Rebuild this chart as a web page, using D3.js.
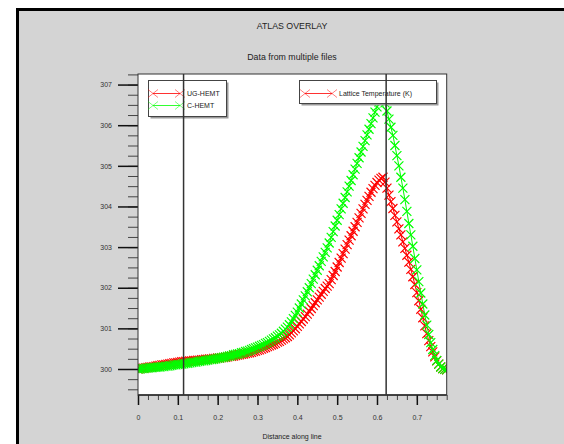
<!DOCTYPE html>
<html>
<head>
<meta charset="utf-8">
<script src="https://cdn.jsdelivr.net/npm/d3@7"></script>
<style>
html, body { margin: 0; padding: 0; background: #fff; overflow: hidden; }
svg { display: block; font-family: "Liberation Sans", Arial, sans-serif; }
</style>
</head>
<body>
<svg id="chart" width="564" height="444"></svg>
<script>
// ----- data (distance along line, lattice temperature in K)
const ugHemt = [
    [0, 300.00], [0.005, 300.01], [0.01, 300.02], [0.015, 300.02], [0.02, 300.03], [0.025, 300.04], [0.03, 300.05], [0.035, 300.05],
    [0.04, 300.06], [0.045, 300.07], [0.05, 300.08], [0.055, 300.09], [0.06, 300.10], [0.065, 300.10], [0.07, 300.11], [0.075, 300.12],
    [0.08, 300.13], [0.085, 300.14], [0.09, 300.15], [0.095, 300.15], [0.10, 300.16], [0.105, 300.17], [0.11, 300.18], [0.115, 300.18],
    [0.12, 300.19], [0.125, 300.19], [0.13, 300.20], [0.135, 300.20], [0.14, 300.21], [0.145, 300.21], [0.15, 300.22], [0.155, 300.22],
    [0.16, 300.23], [0.165, 300.23], [0.17, 300.24], [0.175, 300.24], [0.18, 300.25], [0.185, 300.25], [0.19, 300.26], [0.195, 300.26],
    [0.20, 300.27], [0.205, 300.27], [0.21, 300.28], [0.215, 300.28], [0.22, 300.29], [0.225, 300.30], [0.23, 300.31], [0.235, 300.31],
    [0.24, 300.32], [0.245, 300.33], [0.25, 300.34], [0.255, 300.35], [0.26, 300.36], [0.265, 300.37], [0.27, 300.38], [0.275, 300.39],
    [0.28, 300.40], [0.285, 300.41], [0.29, 300.43], [0.295, 300.44], [0.30, 300.46], [0.305, 300.47], [0.31, 300.49], [0.315, 300.51],
    [0.32, 300.53], [0.325, 300.55], [0.33, 300.57], [0.335, 300.59], [0.34, 300.61], [0.345, 300.63], [0.35, 300.66], [0.355, 300.68],
    [0.36, 300.71], [0.365, 300.74], [0.37, 300.77], [0.375, 300.80], [0.38, 300.84], [0.385, 300.89], [0.39, 300.94], [0.395, 300.99],
    [0.40, 301.05], [0.405, 301.11], [0.41, 301.17], [0.415, 301.23], [0.42, 301.29], [0.425, 301.35], [0.43, 301.42], [0.435, 301.49],
    [0.44, 301.56], [0.445, 301.63], [0.45, 301.70], [0.455, 301.77], [0.46, 301.84], [0.465, 301.91], [0.47, 301.98], [0.475, 302.04],
    [0.48, 302.10], [0.485, 302.20], [0.49, 302.30], [0.495, 302.40], [0.50, 302.51], [0.505, 302.62], [0.51, 302.73], [0.515, 302.84],
    [0.52, 302.95], [0.525, 303.06], [0.53, 303.17], [0.535, 303.28], [0.54, 303.39], [0.545, 303.50], [0.55, 303.61], [0.555, 303.72],
    [0.56, 303.83], [0.565, 303.94], [0.57, 304.05], [0.575, 304.15], [0.58, 304.25], [0.585, 304.35], [0.59, 304.44], [0.595, 304.52],
    [0.60, 304.59], [0.605, 304.65], [0.61, 304.69], [0.615, 304.72], [0.62, 304.60], [0.625, 304.45], [0.63, 304.28], [0.635, 304.12],
    [0.64, 303.95], [0.645, 303.78], [0.65, 303.62], [0.655, 303.45], [0.66, 303.30], [0.665, 303.13], [0.67, 302.97], [0.675, 302.80],
    [0.68, 302.63], [0.685, 302.45], [0.69, 302.27], [0.695, 302.08], [0.70, 301.88], [0.705, 301.68], [0.71, 301.47], [0.715, 301.26],
    [0.72, 301.06], [0.725, 300.87], [0.73, 300.70], [0.735, 300.55], [0.74, 300.42], [0.745, 300.30], [0.75, 300.20], [0.755, 300.12],
    [0.76, 300.05], [0.765, 300.01], [0.77, 299.99], [0.775, 299.98]
];

const cHemt = [
    [0, 300.00], [0.005, 300.00], [0.01, 300.01], [0.015, 300.01], [0.02, 300.02], [0.025, 300.02], [0.03, 300.03], [0.035, 300.03],
    [0.04, 300.04], [0.045, 300.04], [0.05, 300.05], [0.055, 300.05], [0.06, 300.06], [0.065, 300.06], [0.07, 300.07], [0.075, 300.07],
    [0.08, 300.08], [0.085, 300.09], [0.09, 300.10], [0.095, 300.10], [0.10, 300.11], [0.105, 300.11], [0.11, 300.12], [0.115, 300.13],
    [0.12, 300.14], [0.125, 300.14], [0.13, 300.15], [0.135, 300.16], [0.14, 300.17], [0.145, 300.17], [0.15, 300.18], [0.155, 300.19],
    [0.16, 300.20], [0.165, 300.20], [0.17, 300.21], [0.175, 300.22], [0.18, 300.23], [0.185, 300.23], [0.19, 300.24], [0.195, 300.25],
    [0.20, 300.26], [0.205, 300.27], [0.21, 300.28], [0.215, 300.29], [0.22, 300.30], [0.225, 300.31], [0.23, 300.32], [0.235, 300.33],
    [0.24, 300.35], [0.245, 300.36], [0.25, 300.37], [0.255, 300.38], [0.26, 300.40], [0.265, 300.41], [0.27, 300.43], [0.275, 300.44],
    [0.28, 300.46], [0.285, 300.48], [0.29, 300.50], [0.295, 300.52], [0.30, 300.54], [0.305, 300.56], [0.31, 300.58], [0.315, 300.60],
    [0.32, 300.63], [0.325, 300.65], [0.33, 300.68], [0.335, 300.71], [0.34, 300.74], [0.345, 300.77], [0.35, 300.81], [0.355, 300.84],
    [0.36, 300.88], [0.365, 300.93], [0.37, 300.98], [0.375, 301.03], [0.38, 301.09], [0.385, 301.16], [0.39, 301.24], [0.395, 301.32],
    [0.40, 301.40], [0.405, 301.50], [0.41, 301.60], [0.415, 301.70], [0.42, 301.80], [0.425, 301.90], [0.43, 302.00], [0.435, 302.10],
    [0.44, 302.21], [0.445, 302.32], [0.45, 302.43], [0.455, 302.54], [0.46, 302.65], [0.465, 302.76], [0.47, 302.87], [0.475, 302.98],
    [0.48, 303.10], [0.485, 303.24], [0.49, 303.38], [0.495, 303.52], [0.50, 303.66], [0.505, 303.80], [0.51, 303.94], [0.515, 304.08],
    [0.52, 304.22], [0.525, 304.36], [0.53, 304.50], [0.535, 304.64], [0.54, 304.78], [0.545, 304.92], [0.55, 305.06], [0.555, 305.20],
    [0.56, 305.34], [0.565, 305.48], [0.57, 305.62], [0.575, 305.76], [0.58, 305.90], [0.585, 306.04], [0.59, 306.18], [0.595, 306.32],
    [0.60, 306.45], [0.605, 306.57], [0.61, 306.67], [0.615, 306.72], [0.62, 306.55], [0.625, 306.35], [0.63, 306.15], [0.635, 305.95],
    [0.64, 305.75], [0.645, 305.50], [0.65, 305.25], [0.655, 305.00], [0.66, 304.72], [0.665, 304.45], [0.67, 304.17], [0.675, 303.88],
    [0.68, 303.58], [0.685, 303.30], [0.69, 303.02], [0.695, 302.72], [0.70, 302.44], [0.705, 302.15], [0.71, 301.87], [0.715, 301.60],
    [0.72, 301.33], [0.725, 301.08], [0.73, 300.85], [0.735, 300.65], [0.74, 300.48], [0.745, 300.33], [0.75, 300.21], [0.755, 300.12],
    [0.76, 300.05], [0.765, 300.01], [0.77, 299.99], [0.775, 299.98]
];

const cutLines = [0.1144, 0.623];
const xTicks = [0, 0.1, 0.2, 0.3, 0.4, 0.5, 0.6, 0.7];
const yTicks = [300, 301, 302, 303, 304, 305, 306, 307];
const seriesNames = ['UG-HEMT', 'C-HEMT'];
const seriesColors = ['#ff0000', '#00ff00'];

// ----- layout
const W = 564, H = 444;
const svg = d3.select('#chart');
const plot = { left: 138, top: 74, right: 446.7, bottom: 395 };

const x = d3.scaleLinear().domain([0, 0.775]).range([plot.left, plot.right]);
const y = d3.scaleLinear().domain([299.36, 307.26]).range([plot.bottom, plot.top]);

// window frame (black edge top/left, grey panel)
svg.append('rect').attr('x', 16).attr('y', 8).attr('width', W - 16).attr('height', H - 8).attr('fill', '#000');
svg.append('rect').attr('x', 19).attr('y', 11).attr('width', W - 19).attr('height', H - 11).attr('fill', '#d4d4d4');

// titles
svg.append('text').attr('x', 292).attr('y', 29).attr('text-anchor', 'middle')
    .attr('font-size', 8.8).attr('fill', '#222').text('ATLAS OVERLAY');
svg.append('text').attr('x', 292).attr('y', 60).attr('text-anchor', 'middle')
    .attr('font-size', 8.8).attr('fill', '#222').text('Data from multiple files');

// plot background
svg.append('rect')
    .attr('x', plot.left).attr('y', plot.top)
    .attr('width', plot.right - plot.left).attr('height', plot.bottom - plot.top)
    .attr('fill', '#fff');

svg.append('clipPath').attr('id', 'clip')
    .append('rect')
    .attr('x', plot.left).attr('y', plot.top)
    .attr('width', plot.right - plot.left).attr('height', plot.bottom - plot.top);

// ----- axes
const xMinor = d3.range(0, 0.776, 0.025);
const yMinor = d3.range(299.5, 307.26, 0.25);

const xAxisMinor = svg.append('g')
    .attr('transform', `translate(0,${plot.bottom})`)
    .call(d3.axisBottom(x).tickValues(xMinor).tickSize(5).tickFormat(''));
xAxisMinor.select('.domain').remove();
xAxisMinor.selectAll('line').attr('stroke', '#444');

const xAxis = svg.append('g')
    .attr('transform', `translate(0,${plot.bottom})`)
    .call(d3.axisBottom(x).tickValues(xTicks).tickSize(10).tickPadding(10).tickFormat(d3.format('')));
xAxis.select('.domain').attr('stroke', '#222').attr('stroke-width', 1.5).attr('d', `M${plot.left},0H${plot.right}`);
xAxis.selectAll('line').attr('stroke', '#111').attr('stroke-width', 1.5);
xAxis.selectAll('text').attr('font-size', 7).attr('fill', '#333').attr('font-family', 'Liberation Sans, Arial, sans-serif');

const yAxisMinor = svg.append('g')
    .attr('transform', `translate(${plot.left},0)`)
    .call(d3.axisLeft(y).tickValues(yMinor).tickSize(10).tickFormat(''));
yAxisMinor.select('.domain').remove();
yAxisMinor.selectAll('line').attr('stroke', '#444');

const yAxis = svg.append('g')
    .attr('transform', `translate(${plot.left},0)`)
    .call(d3.axisLeft(y).tickValues(yTicks).tickSize(20).tickPadding(6).tickFormat(d3.format('d')));
yAxis.select('.domain').remove();
yAxis.selectAll('line').attr('stroke', '#111').attr('stroke-width', 1.5);
yAxis.selectAll('text').attr('font-size', 7).attr('fill', '#333').attr('font-family', 'Liberation Sans, Arial, sans-serif');

svg.append('text').attr('x', 292).attr('y', 439).attr('text-anchor', 'middle')
    .attr('font-size', 7).attr('fill', '#222').text('Distance along line');

// ----- series
const cross = 'M-4.5,-4.5L4.5,4.5M-4.5,4.5L4.5,-4.5';
const line = d3.line().x(d => x(d[0])).y(d => y(d[1]));
const dataLayer = svg.append('g').attr('clip-path', 'url(#clip)');

[ugHemt, cHemt].forEach((series, i) => {
    const g = dataLayer.append('g');
    g.append('path').datum(series).attr('d', line)
        .attr('fill', 'none').attr('stroke', seriesColors[i]).attr('stroke-width', 1);
    g.selectAll('path.mark').data(series).enter().append('path')
        .attr('class', 'mark')
        .attr('d', cross)
        .attr('transform', d => `translate(${x(d[0])},${y(d[1])})`)
        .attr('fill', 'none').attr('stroke', seriesColors[i]).attr('stroke-width', 1.2);
});

// ----- legends
function legendBox(x0, y0, w, h) {
    svg.append('rect').attr('x', x0 + 2).attr('y', y0 + 2).attr('width', w).attr('height', h).attr('fill', '#9a9a9a');
    svg.append('rect').attr('x', x0).attr('y', y0).attr('width', w).attr('height', h)
        .attr('fill', '#fff').attr('stroke', '#444').attr('stroke-width', 1);
}
function legendEntry(x0, yc, color, label) {
    const g = svg.append('g');
    g.append('line').attr('x1', x0).attr('x2', x0 + 27).attr('y1', yc).attr('y2', yc)
        .attr('stroke', color).attr('stroke-width', 1).attr('opacity', 0.8);
    [x0, x0 + 27].forEach(px => {
        g.append('path').attr('d', 'M-5,-4L5,4M-5,4L5,-4')
            .attr('transform', `translate(${px},${yc})`)
            .attr('fill', 'none').attr('stroke', color).attr('stroke-width', 1).attr('opacity', 0.5);
    });
    g.append('text').attr('x', x0 + 34).attr('y', yc + 2.5)
        .attr('font-size', 7).attr('fill', '#222').text(label);
}

legendBox(148.5, 80.5, 78, 36);
seriesNames.forEach((name, i) => legendEntry(153, 93.5 + i * 12, seriesColors[i], name));

legendBox(299.5, 80.5, 137, 23);
legendEntry(305, 93.5, seriesColors[0], 'Lattice Temperature (K)');

// ----- cut lines
svg.selectAll('line.cut').data(cutLines).enter().append('line')
    .attr('class', 'cut')
    .attr('x1', d => x(d)).attr('x2', d => x(d))
    .attr('y1', plot.top).attr('y2', plot.bottom)
    .attr('stroke', '#333').attr('stroke-width', 1.5);

// plot border
svg.append('rect')
    .attr('x', plot.left).attr('y', plot.top)
    .attr('width', plot.right - plot.left).attr('height', plot.bottom - plot.top)
    .attr('fill', 'none').attr('stroke', '#333').attr('stroke-width', 1);
</script>
</body>
</html>
